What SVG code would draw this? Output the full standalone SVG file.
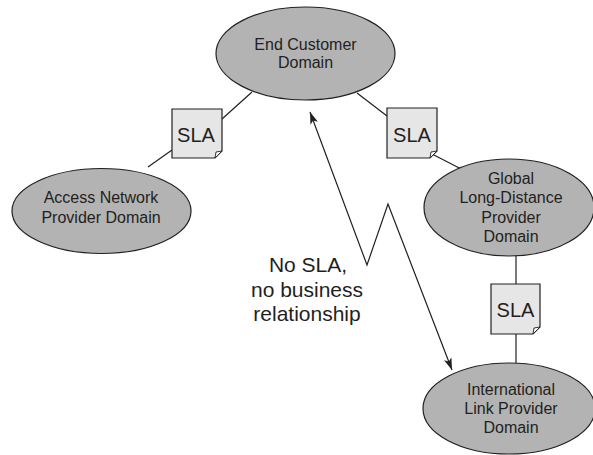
<svg xmlns="http://www.w3.org/2000/svg" width="593" height="455" viewBox="0 0 593 455">
<style>
.dom{fill:#b3b3b3;stroke:#231f20;stroke-width:1.2}
.box{fill:#e6e6e7;stroke:#231f20;stroke-width:1.2}
.fold{fill:#ffffff;stroke:#231f20;stroke-width:0.9}
.t{font-family:"Liberation Sans",Arial,sans-serif;font-size:16px;fill:#231f20;text-anchor:middle}
.s{font-family:"Liberation Sans",Arial,sans-serif;font-size:20px;fill:#231f20;text-anchor:middle}
.n{font-family:"Liberation Sans",Arial,sans-serif;font-size:21px;fill:#231f20;text-anchor:middle}
.ln{fill:none;stroke:#231f20;stroke-width:1.2}
</style>
<defs>
<marker id="ah" viewBox="0 0 12 8" refX="12" refY="4" markerWidth="12" markerHeight="8" markerUnits="userSpaceOnUse" orient="auto-start-reverse">
<path d="M0,0 L12,4 L0,8 L3,4 Z" fill="#231f20"/>
</marker>
</defs>
<rect width="593" height="455" fill="#ffffff"/>
<g id="connectors">
<line class="ln" x1="252" y1="92" x2="222" y2="119"/>
<line class="ln" x1="172" y1="150" x2="148" y2="167"/>
<line class="ln" x1="357" y1="93" x2="387" y2="116"/>
<line class="ln" x1="432" y1="154" x2="467" y2="172"/>
<line class="ln" x1="516" y1="256" x2="516" y2="284"/>
<line class="ln" x1="516" y1="334" x2="516" y2="363"/>
<path class="ln" d="M310,112 L367,265 L388,204 L452,370" marker-start="url(#ah)" marker-end="url(#ah)"/>
</g>
<g id="end-customer">
<ellipse class="dom" cx="305.5" cy="53.5" rx="89.5" ry="46.5"/>
<text class="t" x="305.5" y="50">End Customer</text>
<text class="t" x="305.5" y="68">Domain</text>
</g>
<g id="access-network">
<ellipse class="dom" cx="101.5" cy="211" rx="89.5" ry="42.5"/>
<text class="t" x="101" y="203">Access Network</text>
<text class="t" x="101" y="223">Provider Domain</text>
</g>
<g id="global-long-distance">
<ellipse class="dom" cx="509" cy="207.5" rx="85" ry="48.5"/>
<text class="t" x="511" y="184">Global</text>
<text class="t" x="511" y="203">Long-Distance</text>
<text class="t" x="511" y="223">Provider</text>
<text class="t" x="511" y="242">Domain</text>
</g>
<g id="international-link">
<ellipse class="dom" cx="509" cy="408.5" rx="86" ry="45.5"/>
<text class="t" x="511" y="395">International</text>
<text class="t" x="511" y="414">Link Provider</text>
<text class="t" x="511" y="433">Domain</text>
</g>
<g id="sla-left">
<path class="box" d="M172,109 H222 V151 L215,158 H172 Z"/>
<path class="fold" d="M222,151 L216,152 L215,158 Z"/>
<text class="s" x="196" y="142">SLA</text>
</g>
<g id="sla-right">
<path class="box" d="M387,108 H437 V151 L430,158 H387 Z"/>
<path class="fold" d="M437,151 L431,152 L430,158 Z"/>
<text class="s" x="412" y="142">SLA</text>
</g>
<g id="sla-vertical">
<path class="box" d="M491,284 H540 V327 L533,334 H491 Z"/>
<path class="fold" d="M540,327 L534,328 L533,334 Z"/>
<text class="s" x="515.5" y="317">SLA</text>
</g>
<g id="no-sla-label">
<text class="n" x="308" y="272">No SLA,</text>
<text class="n" x="307" y="297">no business</text>
<text class="n" x="307" y="321">relationship</text>
</g>
</svg>
